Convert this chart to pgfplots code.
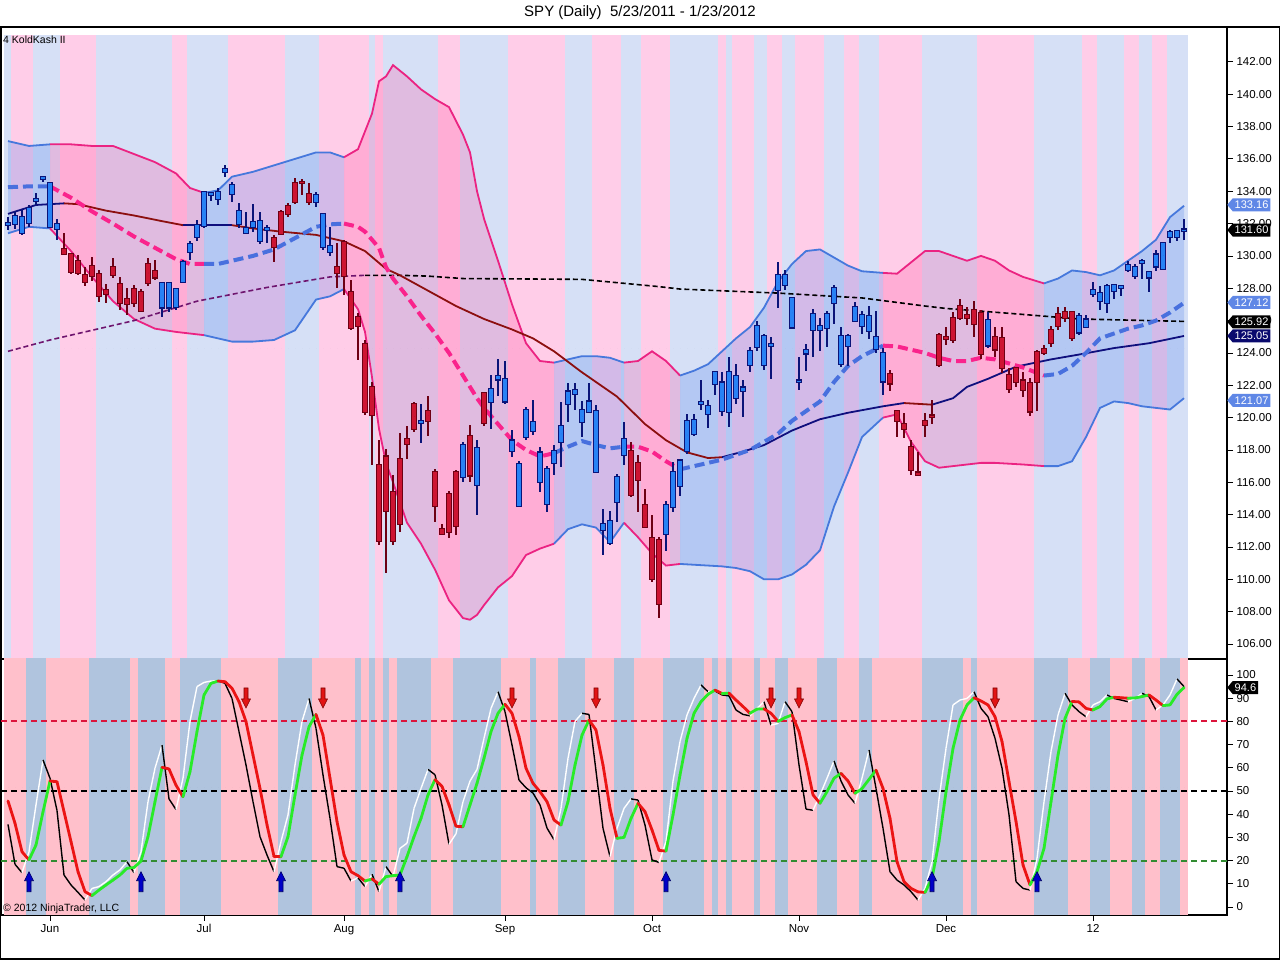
\documentclass[border=0pt]{standalone}
\usepackage{fontspec}
\setmainfont{Liberation Sans}
\usepackage{pgfplots}
\pgfplotsset{compat=1.18}
\usepackage{pgfplotstable}
\usetikzlibrary{shapes.symbols}

\definecolor{stripeblue}{RGB}{214,224,246}
\definecolor{stripepink}{RGB}{255,205,232}
\definecolor{lowblue}{RGB}{176,196,222}
\definecolor{lowpink}{RGB}{255,192,203}
\definecolor{bandpink}{RGB}{235,35,130}
\definecolor{bandblue}{RGB}{70,120,220}
\definecolor{fillpink}{RGB}{255,80,160}
\definecolor{fillblue}{RGB}{80,130,235}
\definecolor{midpink}{RGB}{250,35,140}
\definecolor{midblue}{RGB}{72,112,222}
\definecolor{smared}{RGB}{140,15,15}
\definecolor{smanavy}{RGB}{15,15,125}
\definecolor{smapurple}{RGB}{110,20,110}
\definecolor{upfill}{RGB}{40,130,245}
\definecolor{upline}{RGB}{10,20,120}
\definecolor{dnfill}{RGB}{205,20,50}
\definecolor{dnline}{RGB}{110,0,20}
\definecolor{lvl80}{RGB}{220,20,60}
\definecolor{lvl20}{RGB}{50,140,50}
\definecolor{arrblue}{RGB}{0,0,200}
\definecolor{arrred}{RGB}{225,20,20}
\definecolor{flagblue}{RGB}{95,135,230}
\definecolor{flagnavy}{RGB}{10,10,110}

\pgfplotsset{
  colormap={stochrg}{rgb255=(235,20,20) rgb255=(40,235,40)},
  colormap={stochbw}{rgb255=(0,0,0) rgb255=(255,255,255)},
  ebar/.style 2 args={only marks, mark=*, mark size=0pt, mark options={draw=none, fill=none}, forget plot,
     error bars/y dir=both, error bars/y explicit, error bars/error mark=none,
     error bars/error bar style={line width=#1, color=#2}},
}

\pgfdeclareplotmark{uparr}{%
  \pgfpathmoveto{\pgfqpoint{-2pt}{-10pt}}%
  \pgfpathlineto{\pgfqpoint{2pt}{-10pt}}%
  \pgfpathlineto{\pgfqpoint{2pt}{1pt}}%
  \pgfpathlineto{\pgfqpoint{4.5pt}{1pt}}%
  \pgfpathlineto{\pgfqpoint{0pt}{10pt}}%
  \pgfpathlineto{\pgfqpoint{-4.5pt}{1pt}}%
  \pgfpathlineto{\pgfqpoint{-2pt}{1pt}}%
  \pgfpathclose
  \pgfusepathqfillstroke}
\pgfdeclareplotmark{dnarr}{%
  \pgfpathmoveto{\pgfqpoint{-2pt}{10pt}}%
  \pgfpathlineto{\pgfqpoint{2pt}{10pt}}%
  \pgfpathlineto{\pgfqpoint{2pt}{-1pt}}%
  \pgfpathlineto{\pgfqpoint{4.5pt}{-1pt}}%
  \pgfpathlineto{\pgfqpoint{0pt}{-10pt}}%
  \pgfpathlineto{\pgfqpoint{-4.5pt}{-1pt}}%
  \pgfpathlineto{\pgfqpoint{-2pt}{-1pt}}%
  \pgfpathclose
  \pgfusepathqfillstroke}

% ---------------- price candles: index, body low, body high, low, high, colour (1 blue / 0 red)
\pgfplotstableread{
i bl bh lo hi c
0 131.95 132.05 131.60 132.40 1
1 131.97 132.47 131.67 132.74 1
2 131.40 132.39 131.30 132.84 1
3 132.02 132.98 131.77 133.15 1
4 133.41 133.51 133.15 133.87 1
5 134.77 134.87 134.59 134.94 1
6 131.81 134.53 131.71 134.59 1
7 131.68 131.97 130.98 132.26 1
8 130.12 130.43 130.06 131.41 0
9 129.03 130.10 128.88 130.16 0
10 128.93 129.69 128.82 130.06 0
11 128.40 128.82 128.14 129.31 0
12 128.76 129.38 128.47 129.91 0
13 127.54 128.88 127.16 129.13 0
14 127.65 127.89 127.07 128.26 0
15 128.82 129.33 128.61 129.85 0
16 127.07 128.26 126.65 128.72 0
17 127.03 127.34 126.35 127.99 0
18 127.07 127.94 126.86 128.20 0
19 126.61 127.77 126.55 127.94 0
20 128.34 129.48 128.14 129.85 0
21 128.67 129.06 128.51 129.75 0
22 126.81 128.30 126.24 128.34 1
23 126.81 128.30 126.55 128.34 1
24 126.86 127.94 126.65 128.00 1
25 128.40 129.60 128.30 129.75 1
26 130.22 130.72 129.75 130.94 1
27 131.15 131.91 130.94 132.22 1
28 131.87 133.93 131.71 134.03 1
29 133.78 133.88 133.41 133.97 1
30 133.50 133.97 133.15 134.18 1
31 135.19 135.35 134.90 135.62 1
32 133.83 134.38 133.35 134.59 1
33 131.97 132.77 131.71 133.30 1
34 131.40 131.71 131.40 132.74 1
35 131.81 132.09 131.50 133.20 1
36 130.94 132.16 130.73 132.74 1
37 131.60 131.70 130.77 131.90 1
38 130.57 131.08 129.64 131.29 0
39 131.35 132.69 131.29 132.84 0
40 132.62 133.06 132.43 133.30 0
41 133.35 134.49 133.20 134.80 0
42 134.49 134.59 133.77 134.74 0
43 133.32 133.83 133.15 134.49 0
44 133.32 133.77 133.05 133.97 1
45 130.57 132.58 130.36 132.64 1
46 130.22 130.60 130.00 131.81 1
47 128.93 129.33 128.00 130.78 0
48 128.76 130.85 127.58 130.98 0
49 125.53 127.79 125.40 128.49 0
50 125.67 126.20 123.56 126.44 0
51 120.33 124.55 120.14 124.77 0
52 120.14 121.89 117.04 122.20 0
53 112.35 117.07 112.10 118.60 0
54 114.25 117.59 110.40 118.07 0
55 112.35 115.39 112.10 116.42 0
56 113.44 117.45 112.95 119.06 0
57 118.39 118.66 117.45 119.46 0
58 119.29 120.82 119.13 120.99 0
59 119.66 119.76 118.40 120.87 1
60 119.79 120.41 118.89 121.36 0
61 114.52 116.62 113.53 116.83 0
62 112.82 113.13 112.72 113.44 0
63 112.92 115.28 112.54 115.49 0
64 113.28 116.62 112.72 116.73 0
65 116.32 118.28 116.01 118.49 1
66 116.42 118.87 116.01 119.53 0
67 115.84 118.11 113.96 118.60 1
68 119.69 121.51 119.48 121.61 0
69 120.97 121.79 119.32 122.61 1
70 122.36 122.59 121.36 123.63 1
71 121.00 122.41 120.84 123.52 1
72 117.92 118.58 117.58 119.23 1
73 114.52 117.13 114.46 117.34 1
74 118.83 120.47 118.60 120.68 1
75 119.17 119.71 118.93 121.09 1
76 116.01 117.84 115.39 118.19 1
77 114.66 116.83 114.18 116.99 1
78 117.22 117.92 116.42 118.28 1
79 118.51 119.50 116.97 120.99 1
80 120.82 121.61 119.71 122.13 1
81 121.46 121.69 120.47 122.13 1
82 119.71 120.47 118.83 121.02 1
83 120.33 120.99 120.27 122.13 1
84 116.62 120.41 116.62 120.79 1
85 113.03 113.44 111.48 114.37 1
86 112.26 113.59 112.10 114.25 1
87 114.77 116.32 113.53 116.52 1
88 117.71 118.66 117.04 119.75 1
89 115.24 117.92 115.09 118.49 0
90 116.13 117.20 114.15 117.66 0
91 113.26 114.60 113.22 115.59 0
92 110.00 112.54 109.86 113.97 0
93 108.47 112.43 107.59 112.64 0
94 112.82 114.60 111.77 114.87 1
95 114.50 116.62 114.15 117.24 1
96 115.79 117.34 115.18 117.45 1
97 117.94 119.79 117.73 120.20 1
98 119.00 119.83 118.87 120.20 1
99 120.88 120.98 120.49 122.35 1
100 120.21 120.70 119.33 121.07 1
101 122.07 122.79 121.41 122.90 1
102 120.42 122.17 120.11 122.79 1
103 120.36 122.79 119.39 123.72 1
104 121.24 122.58 120.83 123.30 1
105 121.66 121.86 120.05 122.32 1
106 123.27 124.13 122.85 124.34 1
107 124.38 125.68 124.13 125.99 1
108 123.27 125.06 122.94 125.17 1
109 124.45 124.55 122.38 125.00 1
110 127.87 128.80 126.80 129.62 1
111 128.18 128.80 127.87 129.10 1
112 125.58 127.37 125.48 127.43 1
113 122.19 122.29 121.70 123.72 1
114 123.97 124.17 122.90 124.58 1
115 125.43 126.40 123.72 126.71 1
116 125.43 125.64 124.13 126.19 1
117 125.54 126.40 124.34 126.57 1
118 127.10 128.03 125.80 128.23 1
119 123.31 125.06 123.15 125.62 1
120 124.44 125.02 123.21 125.17 1
121 125.99 126.86 125.89 127.12 1
122 125.68 126.35 125.17 126.60 1
123 125.37 126.29 124.85 126.91 1
124 124.24 125.00 123.99 126.57 1
125 122.24 123.99 121.41 124.29 1
126 122.11 122.69 121.62 122.96 0
127 119.79 120.41 118.83 120.47 0
128 119.30 119.58 118.72 120.27 0
129 116.75 118.19 116.42 118.60 0
130 116.45 116.60 116.42 117.86 0
131 119.55 119.81 118.82 120.27 0
132 120.03 120.13 119.63 121.07 0
133 123.25 125.11 123.15 125.21 0
134 124.90 125.00 124.49 125.62 0
135 124.79 126.13 124.59 126.54 0
136 126.18 126.88 126.02 127.36 0
137 126.18 126.32 125.71 126.84 0
138 125.81 126.67 124.97 127.24 0
139 123.95 126.46 123.65 126.63 0
140 124.46 126.05 124.28 126.54 1
141 124.22 124.96 123.77 125.62 0
142 123.05 124.90 122.74 125.62 0
143 121.76 122.64 121.51 123.06 0
144 122.23 123.06 121.92 123.16 0
145 121.72 122.29 121.30 122.85 0
146 120.38 122.13 120.07 122.44 0
147 122.23 124.04 120.38 124.20 0
148 124.00 124.24 123.88 124.51 0
149 124.61 125.39 124.39 125.64 0
150 125.69 126.43 125.40 126.84 0
151 126.16 126.51 125.91 126.84 0
152 124.93 126.51 124.74 126.57 0
153 125.27 126.26 125.12 126.47 1
154 125.61 126.06 125.54 126.37 1
155 127.63 127.89 127.48 128.39 1
156 127.21 127.72 126.65 128.13 1
157 127.10 128.13 126.47 128.27 1
158 127.86 128.21 127.33 128.27 1
159 128.02 128.12 127.52 128.21 1
160 129.14 129.43 128.98 129.70 1
161 128.77 129.29 128.56 129.49 1
162 129.59 129.69 128.56 129.81 1
163 128.67 129.01 127.74 129.08 1
164 129.35 130.08 129.08 130.34 1
165 129.22 130.77 129.14 130.88 1
166 131.20 131.45 130.77 131.58 1
167 131.20 131.51 130.90 131.62 1
168 131.55 131.63 130.98 132.28 1
}\candles

% ---------------- Bollinger bands: upper, middle, lower
\pgfplotstableread{
x u m l
0 137.1 134.25 131.4
3 136.8 134.3 131.8
6 136.9 134.3 131.7
9 136.9 133.6 130.3
12 136.8 132.75 128.7
15 136.8 132.0 127.2
18 136.3 131.2 126.1
21 135.8 130.5 125.5
24 135.1 129.8 125.3
26 134.2 129.5 125.2
28 133.9 129.5 125.1
30 134.05 129.5 124.9
32 134.9 129.7 124.7
35 135.2 130.0 124.7
38 135.6 130.4 124.8
41 136.0 131.1 125.4
44 136.4 131.8 127.3
46 136.4 131.95 127.5
48 136.1 132.0 127.95
50 136.6 131.8 126.7
51 137.7 131.5 125.3
52 138.8 131.0 122.5
53 140.8 130.5 119.3
54 141.1 129.3 117.2
55 141.8 128.6 116.0
57 141.1 127.5 113.5
59 140.3 126.3 112.2
61 139.7 125.2 110.6
63 139.2 124.0 108.7
65 137.5 122.6 107.6
66 136.4 121.9 107.5
67 134.0 121.2 107.8
68 132.3 120.6 108.4
70 129.7 119.6 109.5
72 127.0 118.6 110.2
74 124.6 118.0 111.5
76 123.5 117.6 111.9
78 123.4 117.8 112.2
80 123.6 118.2 113.1
82 123.8 118.55 113.4
84 123.8 118.3 113.2
86 123.7 118.1 112.3
88 123.4 118.2 113.5
90 123.5 118.2 112.6
92 124.1 117.9 111.6
94 123.5 117.3 110.85
96 122.6 116.8 110.95
98 122.9 117.0 110.9
100 123.3 117.2 110.85
102 124.1 117.4 110.8
104 124.9 117.7 110.7
106 125.6 118.0 110.5
108 126.8 118.5 110.0
110 128.4 119.0 110.0
112 129.5 119.8 110.3
114 130.3 120.4 110.9
116 130.4 121.0 111.8
118 129.9 122.2 114.5
120 129.4 123.2 116.6
122 129.05 123.8 118.8
125 128.95 124.45 120.0
127 128.9 124.4 120.2
129 129.6 124.2 118.5
131 130.3 124.0 117.3
133 130.3 123.7 116.9
135 130.0 123.5 117.0
137 129.7 123.5 117.1
139 130.0 123.7 117.2
141 129.7 123.6 117.2
143 129.1 123.35 117.15
145 128.7 123.1 117.1
148 128.3 122.6 117.0
150 128.6 122.7 117.0
152 129.1 123.2 117.3
154 129.0 124.0 118.8
156 128.8 124.9 120.6
158 129.1 125.2 121.0
160 129.7 125.5 120.9
162 130.3 125.7 120.7
164 131.0 126.0 120.6
166 132.4 126.5 120.5
168 133.1 127.1 121.2
}\bands

\pgfplotstableread{
x s
0 132.6
4 133.15
8 133.25
10 133.2
14 132.8
18 132.5
22 132.15
25 131.9
28 131.9
32 131.9
35 131.7
39 131.5
44 131.3
48 130.9
51 130.3
54 129.2
56 128.8
60 127.85
64 126.9
68 126.1
72 125.45
75 124.9
78 124.1
82 122.8
87 121.3
91 119.6
94 118.6
97 117.85
100 117.5
102 117.55
105 117.9
108 118.3
112 119.2
116 119.9
120 120.3
125 120.7
128 120.9
132 120.8
135 121.2
137 121.9
140 122.4
144 123.15
149 123.6
153 123.9
158 124.3
163 124.6
168 125.05
}\smaF

\pgfplotstableread{
x s
0 124.1
6 124.8
12 125.4
18 126.0
27 127.2
37 128.05
46 128.7
51 128.8
56 128.8
60 128.75
65 128.6
82 128.55
93 128.1
96 127.95
110 127.7
122 127.4
131 126.9
134 126.75
143 126.45
153 126.1
168 125.95
}\smaS

% ---------------- stochastic: main k, fast f, direction flags, stripe flags (t top pink, b bottom pink)
\pgfplotstableread{
i k f dk df t b
0 45.7 35.6 0 0 0 1
1 36.1 18.4 0 0 1 1
2 23.8 14.8 0 1 1 1
3 20.3 23.8 1 1 1 0
4 26.7 44.0 1 1 0 0
5 41.0 63.4 1 0 0 0
6 54.3 55.5 0 0 0 1
7 54.0 41.6 0 0 0 1
8 41.1 13.8 0 0 1 1
9 28.2 9.5 0 0 1 1
10 15.2 6.3 0 0 1 1
11 6.6 3.0 0 1 1 1
12 4.9 8.0 1 1 1 0
13 7.3 8.8 1 1 0 0
14 9.5 10.9 1 1 0 0
15 11.6 13.8 1 1 0 0
16 13.8 16.0 1 1 0 0
17 16.7 19.5 1 0 0 0
18 17.0 14.8 1 1 0 1
19 19.8 23.8 1 1 0 0
20 30.3 45.4 1 1 0 0
21 45.4 59.8 1 1 0 0
22 60.2 69.8 0 0 0 0
23 59.5 46.6 0 0 0 1
24 52.5 42.0 0 1 1 1
25 47.5 55.5 1 1 1 0
26 58.3 80.0 1 1 0 0
27 75.6 95.0 1 1 0 0
28 91.4 96.8 1 1 0 0
29 96.4 97.4 1 1 0 0
30 97.4 97.5 0 0 0 0
31 97.1 96.4 0 0 0 1
32 94.3 89.9 0 0 1 1
33 88.5 75.6 0 0 1 1
34 79.9 61.2 0 0 1 1
35 65.5 45.4 0 0 1 1
36 51.1 30.3 0 0 1 1
37 35.4 22.4 0 0 1 1
38 21.8 15.2 0 1 1 1
39 21.7 28.2 1 1 1 0
40 30.3 39.7 1 1 0 0
41 48.3 61.2 1 1 0 0
42 65.5 80.0 1 1 0 0
43 77.7 89.9 1 0 0 0
44 83.0 77.0 0 0 0 1
45 74.1 56.9 0 0 1 1
46 55.5 38.2 0 0 1 1
47 36.8 17.4 0 0 1 1
48 22.4 16.7 0 0 1 1
49 15.2 11.2 0 1 1 1
50 13.5 12.6 0 0 1 0
51 11.2 8.8 1 1 1 1
52 12.1 14.1 0 0 0 0
53 9.8 6.6 1 1 1 1
54 13.1 17.4 1 0 0 0
55 13.5 13.1 1 1 0 1
56 13.8 25.3 1 1 0 0
57 21.7 27.5 1 1 0 0
58 30.3 42.5 1 1 0 0
59 38.2 51.1 1 1 0 0
60 48.3 59.3 1 0 0 0
61 54.9 57.0 0 0 0 1
62 52.0 44.0 0 0 1 1
63 44.0 27.0 0 1 1 1
64 34.8 31.6 0 1 1 0
65 34.6 45.4 1 1 0 0
66 44.0 54.3 1 1 0 0
67 53.3 59.3 1 1 0 0
68 64.1 72.7 1 1 0 0
69 75.6 85.6 1 1 0 0
70 83.5 92.8 1 0 0 0
71 87.4 84.2 0 0 0 1
72 83.5 69.8 0 0 1 1
73 73.4 54.7 0 0 1 1
74 59.8 51.4 0 0 1 1
75 53.3 49.1 0 0 1 0
76 49.7 44.0 0 0 1 1
77 45.4 34.0 0 0 1 1
78 37.5 29.0 0 1 1 1
79 35.3 42.5 1 1 1 0
80 45.4 64.1 1 1 0 0
81 61.2 80.0 1 1 0 0
82 74.1 83.5 1 0 0 0
83 80.6 83.0 0 0 0 1
84 76.3 58.6 0 0 1 1
85 61.2 33.9 0 0 1 1
86 42.5 21.7 0 1 1 1
87 29.6 33.9 1 1 1 0
88 30.0 42.5 1 1 0 0
89 38.2 46.6 1 0 0 0
90 44.7 46.1 0 0 0 1
91 41.1 35.3 0 0 1 1
92 33.2 20.3 0 0 1 1
93 24.4 19.2 0 1 1 1
94 24.1 28.2 1 1 1 0
95 39.7 54.3 1 1 0 0
96 56.9 71.3 1 1 0 0
97 72.7 82.8 1 1 0 0
98 83.5 89.9 1 1 0 0
99 88.5 95.7 1 0 0 0
100 91.7 92.8 1 1 0 1
101 93.5 93.1 0 0 0 0
102 92.0 91.4 1 0 1 1
103 92.2 91.0 0 0 0 0
104 89.2 84.9 0 0 1 1
105 86.4 83.0 0 0 1 1
106 83.5 82.4 1 1 1 1
107 85.3 85.6 1 1 0 0
108 85.4 88.5 0 0 0 1
109 83.5 78.4 0 1 1 1
110 80.0 79.1 1 1 1 0
111 81.6 88.5 1 0 0 0
112 82.8 84.2 0 0 0 1
113 75.6 61.2 0 0 1 1
114 62.6 42.2 0 0 1 1
115 48.3 41.7 0 1 1 1
116 44.7 48.3 1 1 1 0
117 49.7 55.5 1 1 0 0
118 55.5 63.0 1 0 0 0
119 57.6 54.3 0 0 0 1
120 54.3 48.3 0 0 1 1
121 49.0 44.7 1 1 1 1
122 51.0 55.5 1 1 0 0
123 55.0 67.7 1 0 0 0
124 59.0 51.1 0 0 0 1
125 51.1 33.9 0 0 1 1
126 38.2 15.2 0 0 1 1
127 19.5 11.6 0 0 1 1
128 10.9 9.5 0 0 1 1
129 8.0 6.6 0 0 1 1
130 6.5 3.0 0 1 1 1
131 6.3 8.0 1 1 0 0
132 12.4 19.5 1 1 0 0
133 28.2 46.6 1 1 0 0
134 49.7 68.4 1 1 0 0
135 68.4 87.1 1 1 0 0
136 80.6 89.2 1 1 0 0
137 87.1 89.9 1 1 0 1
138 90.2 92.8 0 0 0 0
139 88.8 85.6 0 0 1 1
140 87.1 82.0 0 0 1 1
141 82.0 72.7 0 0 1 1
142 71.3 59.8 0 0 1 1
143 54.0 39.7 0 0 1 1
144 36.8 10.9 0 0 1 1
145 18.1 8.0 0 0 1 1
146 9.5 7.3 1 1 1 1
147 15.2 21.0 1 1 0 0
148 25.3 45.4 1 1 0 0
149 45.4 67.0 1 1 0 0
150 65.5 82.8 1 1 0 0
151 81.3 92.1 1 0 0 0
152 88.6 87.1 0 0 0 1
153 88.4 84.2 0 0 0 1
154 85.6 82.0 0 1 1 1
155 84.9 87.1 1 1 1 0
156 86.4 88.5 1 1 0 0
157 89.7 91.4 1 0 0 0
158 90.4 89.9 0 0 0 1
159 90.2 89.2 0 0 0 1
160 90.0 88.5 1 1 1 1
161 90.1 89.9 1 1 1 0
162 90.7 92.1 1 0 0 0
163 91.4 90.7 0 0 0 1
164 89.2 84.9 0 1 1 1
165 86.8 87.1 1 1 1 0
166 87.1 91.4 1 1 0 0
167 91.7 98.3 1 0 0 0
168 94.6 95.0 1 0 0 1
}\stoch

\newcommand\bandlines[3]{%
  \addplot[#1, line width=1.8pt, forget plot, restrict x to domain=#2:#3] table[x=x,y=u]{\bands};
  \addplot[#1, line width=1.8pt, forget plot, restrict x to domain=#2:#3] table[x=x,y=l]{\bands};}
\newcommand\midline[3]{%
  \addplot[#1, line width=4pt, dash pattern=on 10pt off 5pt, forget plot, restrict x to domain=#2:#3] table[x=x,y=m]{\bands};}
\newcommand\smaseg[3]{%
  \addplot[#1, line width=1.8pt, forget plot, restrict x to domain=#2:#3] table[x=x,y=s]{\smaF};}
\newcommand\candleset[3]{%
  \addplot[ebar={1.2pt}{#2}, restrict expr to domain={\thisrow{c}}{#1}] table[x=i, y expr={0.5*(\thisrow{hi}+\thisrow{lo})}, y error expr={0.5*(\thisrow{hi}-\thisrow{lo})}]{\candles};
  \addplot[ebar={6pt}{#2}, restrict expr to domain={\thisrow{c}}{#1}] table[x=i, y expr={0.5*(\thisrow{bh}+\thisrow{bl})}, y error expr={0.5*(\thisrow{bh}-\thisrow{bl})+0.07}]{\candles};
  \addplot[ebar={4pt}{#3}, restrict expr to domain={\thisrow{c}}{#1}] table[x=i, y expr={0.5*(\thisrow{bh}+\thisrow{bl})}, y error expr={0.5*(\thisrow{bh}-\thisrow{bl})}]{\candles};}
\newcommand\bfill[2]{\addplot[fill=#1, fill opacity=0.25, draw=none, forget plot] coordinates {#2};}

\tikzset{flag/.style={signal, signal to=west, signal pointer angle=100, text=white,
  inner xsep=2pt, inner ysep=1pt, minimum height=13pt, anchor=west,
  font=\fontsize{11}{12}\selectfont}}

\begin{document}
\begin{tikzpicture}[x=1pt,y=1pt]
\path[use as bounding box] (0,0) rectangle (1280,961);
\fill[white] (0,0) rectangle (1280,961);

% ===================== price panel =====================
\begin{axis}[at={(1pt,302pt)}, anchor=south west, scale only axis,
  width=1226pt, height=632pt,
  xmin=-1, xmax=174.14, ymin=105.072, ymax=144.157,
  xtick=\empty, ytick={106,108,...,142},
  ytick pos=right, yticklabel pos=right,
  tick align=outside, major tick length=6pt,
  /pgf/number format/assume math mode=true,
  yticklabel={\pgfmathprintnumber[fixed,fixed zerofill,precision=2]{\tick}},
  tick label style={font=\fontsize{11.5}{13}\selectfont, black},
  tick style={black, line width=0.8pt},
  axis line style={line width=1.3pt},
]
% background stripes
\addplot[ebar={7.3pt}{stripeblue}, restrict expr to domain={\thisrow{t}}{-0.5:0.5}] table[x=i, y expr=124.3, y error expr=19.36]{\stoch};
\addplot[ebar={7.3pt}{stripepink}, restrict expr to domain={\thisrow{t}}{0.5:1.5}] table[x=i, y expr=124.3, y error expr=19.36]{\stoch};
% band fills
\bfill{fillblue}{(0,137.1) (3,136.8) (6,136.9) (6,131.7) (3,131.8) (0,131.4)}
\bfill{fillpink}{(6,136.9) (9,136.9) (12,136.8) (15,136.8) (18,136.3) (21,135.8) (24,135.1) (26,134.2) (28,133.9) (28,125.1) (26,125.2) (24,125.3) (21,125.5) (18,126.1) (15,127.2) (12,128.7) (9,130.3) (6,131.7)}
\bfill{fillblue}{(28,133.9) (30,134.05) (32,134.9) (35,135.2) (38,135.6) (41,136.0) (44,136.4) (46,136.4) (48,136.1) (48,127.95) (46,127.5) (44,127.3) (41,125.4) (38,124.8) (35,124.7) (32,124.7) (30,124.9) (28,125.1)}
\bfill{fillpink}{(48,136.1) (50,136.6) (51,137.7) (52,138.8) (53,140.8) (54,141.1) (55,141.8) (57,141.1) (59,140.3) (61,139.7) (63,139.2) (65,137.5) (66,136.4) (67,134.0) (68,132.3) (70,129.7) (72,127.0) (74,124.6) (76,123.5) (78,123.4) (78,112.2) (76,111.9) (74,111.5) (72,110.2) (70,109.5) (68,108.4) (67,107.8) (66,107.5) (65,107.6) (63,108.7) (61,110.6) (59,112.2) (57,113.5) (55,116.0) (54,117.2) (53,119.3) (52,122.5) (51,125.3) (50,126.7) (48,127.95)}
\bfill{fillblue}{(78,123.4) (80,123.6) (82,123.8) (84,123.8) (86,123.7) (88,123.4) (88,113.5) (86,112.3) (84,113.2) (82,113.4) (80,113.1) (78,112.2)}
\bfill{fillpink}{(88,123.4) (90,123.5) (92,124.1) (94,123.5) (96,122.6) (96,110.95) (94,110.85) (92,111.6) (90,112.6) (88,113.5)}
\bfill{fillblue}{(96,122.6) (98,122.9) (100,123.3) (102,124.1) (104,124.9) (106,125.6) (108,126.8) (110,128.4) (112,129.5) (114,130.3) (116,130.4) (118,129.9) (120,129.4) (122,129.05) (125,128.95) (125,120.0) (122,118.8) (120,116.6) (118,114.5) (116,111.8) (114,110.9) (112,110.3) (110,110.0) (108,110.0) (106,110.5) (104,110.7) (102,110.8) (100,110.85) (98,110.9) (96,110.95)}
\bfill{fillpink}{(125,128.95) (127,128.9) (129,129.6) (131,130.3) (133,130.3) (135,130.0) (137,129.7) (139,130.0) (141,129.7) (143,129.1) (145,128.7) (148,128.3) (148,117.0) (145,117.1) (143,117.15) (141,117.2) (139,117.2) (137,117.1) (135,117.0) (133,116.9) (131,117.3) (129,118.5) (127,120.2) (125,120.0)}
\bfill{fillblue}{(148,128.3) (150,128.6) (152,129.1) (154,129.0) (156,128.8) (158,129.1) (160,129.7) (162,130.3) (164,131.0) (166,132.4) (168,133.1) (168,121.2) (166,120.5) (164,120.6) (162,120.7) (160,120.9) (158,121.0) (156,120.6) (154,118.8) (152,117.3) (150,117.0) (148,117.0)}
% band lines
\bandlines{bandblue}{0}{6}
\bandlines{bandpink}{6}{28}
\bandlines{bandblue}{28}{48}
\bandlines{bandpink}{48}{78}
\bandlines{bandblue}{78}{88}
\bandlines{bandpink}{88}{96}
\bandlines{bandblue}{96}{125}
\bandlines{bandpink}{125}{148}
\bandlines{bandblue}{148}{168}
% 200 sma
\addplot[smapurple, line width=1.6pt, dash pattern=on 5pt off 3pt, forget plot, restrict x to domain=0:51] table[x=x,y=s]{\smaS};
\addplot[black, line width=1.6pt, dash pattern=on 5pt off 3pt, forget plot, restrict x to domain=51:168] table[x=x,y=s]{\smaS};
% 50 sma
\smaseg{smanavy}{0}{8}
\smaseg{smared}{8}{25}
\smaseg{smanavy}{25}{32}
\smaseg{smared}{32}{102}
\smaseg{smanavy}{102}{128}
\smaseg{smared}{128}{132}
\smaseg{smanavy}{132}{168}
% middle band
\midline{midblue}{0}{6}
\midline{midpink}{6}{28}
\midline{midblue}{28}{48}
\midline{midpink}{48}{78}
\midline{midblue}{78}{88}
\midline{midpink}{88}{96}
\midline{midblue}{96}{125}
\midline{midpink}{125}{148}
\midline{midblue}{148}{168}
% candles
\candleset{0.5:1.5}{upline}{upfill}
\candleset{-0.5:0.5}{dnline}{dnfill}
\coordinate (fa) at (axis cs:174.14,133.16);
\coordinate (fb) at (axis cs:174.14,131.60);
\coordinate (fc) at (axis cs:174.14,127.12);
\coordinate (fd) at (axis cs:174.14,125.92);
\coordinate (fe) at (axis cs:174.14,125.05);
\coordinate (ff) at (axis cs:174.14,121.07);
\end{axis}

% ===================== stochastic panel =====================
\begin{axis}[at={(1pt,46pt)}, anchor=south west, scale only axis,
  width=1226pt, height=256pt,
  xmin=-1, xmax=174.14, ymin=-3.45, ymax=106.9,
  xtick={6,28,48,71,92,113,134,155},
  xticklabels={Jun,Jul,Aug,Sep,Oct,Nov,Dec,12},
  ytick={0,10,...,100},
  ytick pos=right, yticklabel pos=right, xtick pos=left,
  tick align=outside, major tick length=6pt,
  /pgf/number format/assume math mode=true,
  tick label style={font=\fontsize{11.5}{13}\selectfont, black},
  tick style={black, line width=0.8pt},
  axis line style={line width=1.3pt},
  point meta min=0, point meta max=1,
]
\addplot[ebar={7.3pt}{lowblue}, restrict expr to domain={\thisrow{b}}{-0.5:0.5}] table[x=i, y expr=51.5, y error expr=58]{\stoch};
\addplot[ebar={7.3pt}{lowpink}, restrict expr to domain={\thisrow{b}}{0.5:1.5}] table[x=i, y expr=51.5, y error expr=58]{\stoch};
\addplot[lvl80, line width=2pt, dash pattern=on 6pt off 4pt, forget plot] coordinates {(-1,80) (174.14,80)};
\addplot[black, line width=2pt, dash pattern=on 6pt off 4pt, forget plot] coordinates {(-1,50) (174.14,50)};
\addplot[lvl20, line width=2pt, dash pattern=on 6pt off 4pt, forget plot] coordinates {(-1,20) (174.14,20)};
% fast line (white rising, black falling)
\addplot[mesh, colormap name=stochbw, shader=flat corner, point meta=\thisrow{df}, line width=1.4pt, forget plot] table[x=i, y=f]{\stoch};
% main line (green rising, red falling)
\addplot[mesh, colormap name=stochrg, shader=flat corner, point meta=\thisrow{dk}, line width=2.8pt, line cap=round, forget plot] table[x=i, y=k]{\stoch};
% signal arrows
\addplot[only marks, mark=uparr, mark options={fill=arrblue, draw=black!60!blue, line width=0.6pt}, forget plot]
  coordinates {(3,10.9) (19,10.9) (39,10.9) (56,10.9) (94,10.9) (132,10.9) (147,10.9)};
\addplot[only marks, mark=dnarr, mark options={fill=arrred, draw=black!50!red, line width=0.6pt}, forget plot]
  coordinates {(34,90.1) (45,90.1) (72,90.1) (84,90.1) (109,90.1) (113,90.1) (141,90.1)};
\coordinate (fk) at (axis cs:174.14,94.6);
\end{axis}

% value flags
\node[flag, fill=flagblue] at (fa) {133.16};
\node[flag, fill=black] at (fb) {131.60};
\node[flag, fill=flagblue] at (fc) {127.12};
\node[flag, fill=black] at (fd) {125.92};
\node[flag, fill=flagnavy] at (fe) {125.05};
\node[flag, fill=flagblue] at (ff) {121.07};
\node[flag, fill=black] at (fk) {94.6};

% texts and frame
\node[font=\fontsize{15}{17}\selectfont] at (640,948) {SPY (Daily)\ \ 5/23/2011 - 1/23/2012};
\node[anchor=west, font=\fontsize{10.5}{12}\selectfont, inner sep=0pt] at (3,921) {4 KoldKash II};
\node[anchor=west, font=\fontsize{10.5}{12}\selectfont, inner sep=0pt] at (3,52) {© 2012 NinjaTrader, LLC};
\draw[line width=1.3pt] (0.8,2) rectangle (1279.2,934);
\end{tikzpicture}
\end{document}
